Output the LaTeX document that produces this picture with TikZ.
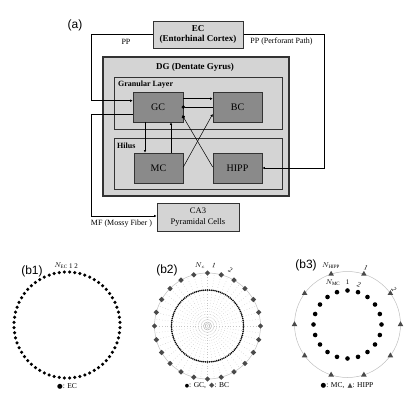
\documentclass[tikz,border=0pt]{standalone}
\usepackage{fontspec}
\setmainfont{Liberation Serif}
\newfontfamily\panelfont{Liberation Sans}
\newfontfamily\symfont{DejaVu Sans}
\usetikzlibrary{arrows.meta,calc,shapes.geometric}
\definecolor{lightbox}{HTML}{D4D4D4}
\definecolor{darkbox}{HTML}{8A8A8A}
\definecolor{markgray}{HTML}{4A4A4A}
\begin{document}
\begin{tikzpicture}[x=1pt,y=-1pt,
  region/.style={draw=black!80, line width=0.8pt, fill=lightbox, inner sep=0pt},
  cell/.style={draw=black!80, line width=0.6pt, fill=darkbox, inner sep=0pt, minimum width=49pt, minimum height=30pt, font=\fontsize{10}{11}\selectfont},
  outerbox/.style={draw=black!80, line width=1pt, fill=lightbox, inner sep=0pt, align=center},
  conn/.style={draw=black, line width=0.5pt},
  excite/.style={conn, -{Latex[length=2.6pt,width=2.6pt]}},
  inhib/.style={conn, -{Circle[length=3.4pt]}, shorten >=-1.7pt},
  lbl/.style={font=\fontsize{8}{9}\selectfont, inner sep=0pt},
  ttl/.style={font=\bfseries\fontsize{8}{9}\selectfont, inner sep=0pt, anchor=west},
  plabel/.style={font=\panelfont\fontsize{12}{13}\selectfont, inner sep=0pt},
  ring/.style={draw=gray!50, line width=0.5pt},
  legend/.style={font=\fontsize{7.5}{8}\selectfont, inner sep=0pt},
  small/.style={font=\fontsize{7}{8}\selectfont, inner sep=0pt}
]
\useasboundingbox (0,0) rectangle (415,400);

% ---------- panel (a) ----------
\node[plabel] (pa) at (75,25) {(a)};

\node[region, line width=1.1pt, minimum width=186pt, minimum height=139pt] (DG) at (196,126.5) {};
\node[font=\bfseries\fontsize{9}{10}\selectfont, inner sep=0pt] (DGt) at (195,67) {DG (Dentate Gyrus)};
\node[region, line width=0.7pt, minimum width=168pt, minimum height=52pt] (GL) at (198,103) {};
\node[ttl] (GLt) at (118,85) {Granular Layer};
\node[region, line width=0.7pt, minimum width=168pt, minimum height=51pt] (HL) at (198,163.5) {};
\node[ttl] (HLt) at (117,146) {Hilus};

\node[cell, minimum width=50pt] (GC) at (158,107) {GC};
\node[cell] (BC) at (237.5,107) {BC};
\node[cell] (MC) at (158.5,168) {MC};
\node[cell] (HIPP) at (237.5,168) {HIPP};

\node[outerbox, minimum width=90pt, minimum height=27pt, font=\bfseries\fontsize{9}{10.5}\selectfont] (EC) at (198,34.5) {EC\\(Entorhinal Cortex)};
\node[outerbox, line width=0.8pt, minimum width=82pt, minimum height=28pt, font=\fontsize{8.5}{10.5}\selectfont] (CA3) at (198,217) {CA3\\Pyramidal Cells};

% coordinates for the long paths
\coordinate (ppL1) at (91,34.5);
\coordinate (ppL2) at (91,100.7);
\coordinate (ppR1) at (324,34.5);
\coordinate (ppR2) at (324,168);
\coordinate (mf1) at (91,114);
\coordinate (mf2) at (91,216);

\draw[excite] (EC.west) -- (ppL1) -- (ppL2) -- ($(GC.west)+(0,-6.3)$);
\draw[excite] (EC.east) -- (ppR1) -- (ppR2) -- (HIPP.east);
\draw[excite] ($(GC.west)+(0,7)$) -- (mf1) -- (mf2) -- ($(CA3.west)+(0,-1)$);

\node[lbl] (ppl) at (126,42) {PP};
\node[lbl] (ppr) at (281.5,42) {PP (Perforant Path)};
\node[lbl] (mfl) at (121.5,223.5) {MF (Mossy Fiber )};

% local connections
\draw[excite] ($(GC.east)+(0,-8.3)$) -- ($(BC.west)+(0,-8.3)$);
\draw[inhib] (BC.west) -- (GC.east);
\draw[inhib] ($(HIPP.west)+(0,-1)$) -- ($(GC.east)+(0,10)$);
\draw[excite] ($(MC.east)+(0,-1)$) -- ($(BC.west)+(0,7)$);
\draw[excite] ($(GC.south)+(-13,0)$) -- ($(MC.north)+(-13.5,0)$);
\draw[excite] ($(MC.north)+(12.5,0)$) -- ($(GC.south)+(13,0)$);

% ---------- panel (b1) ----------
\node[plabel] (pb1) at (32,271) {(b1)};
\coordinate (c1) at (67,325);
\foreach \k in {0,...,63}{
  \fill ($(c1)+({90-2.8125-5.625*\k}:53pt)$) circle (1.75pt);
}
\node[small] (nec) at (61,266) {$N_{\mathrm{EC}}$};
\node[small] (n12a) at (73.5,266.5) {1 2};
\node[legend] (lg1) at (67,386) {{\symfont\fontsize{6.5}{7}\selectfont ●}: EC};

% ---------- panel (b2) ----------
\node[plabel] (pb2) at (167,270) {(b2)};
\coordinate (c2) at (207.5,326);
\foreach \k in {0,...,47}{
  \draw[gray!45, line width=0.5pt, dash pattern=on 0.6pt off 2.2pt] ($(c2)+({7.5*\k}:6pt)$) -- ($(c2)+({7.5*\k}:52pt)$);
}
\draw[ring] (c2) circle (53pt);
\draw[gray!60, line width=0.5pt] (c2) circle (4pt);
\draw[gray!60, line width=0.5pt] (c2) circle (2.3pt);
\fill[gray!70] (c2) circle (0.7pt);
\foreach \k in {0,...,119}{
  \fill ($(c2)+({3*\k}:36pt)$) circle (0.9pt);
}
\foreach \k in {0,...,23}{
  \node[diamond, fill=markgray, inner sep=0pt, minimum size=5.6pt] at ($(c2)+({90-15*\k}:53pt)$) {};
}
\node[small] (nc) at (200,265.5) {$N_{c}$};
\node[small, rotate=-8] (b21) at (214,265.5) {\itshape 1};
\node[small, rotate=-25] (b22) at (230.5,270) {\itshape 2};
\node[legend] (lg2) at (207,386) {{\symfont\fontsize{5}{6}\selectfont ●}: GC,\, {\symfont\fontsize{7}{7}\selectfont\color{markgray}◆}: BC};

% ---------- panel (b3) ----------
\node[plabel] (pb3) at (306,265) {(b3)};
\coordinate (c3) at (347.5,324.5);
\draw[ring] (c3) circle (53pt);
\foreach \k in {0,...,9}{
  \node[regular polygon, regular polygon sides=3, fill=markgray, inner sep=0pt, minimum size=6.5pt] at ($(c3)+({36*\k}:53pt)$) {};
}
\foreach \k in {0,...,19}{
  \fill ($(c3)+({90-18*\k}:34pt)$) circle (2.3pt);
}
\node[small] (nh) at (331,265.5) {$N_{\mathrm{HIPP}}$};
\node[small, rotate=-15] (b31) at (366,267.5) {\itshape 1};
\node[small, rotate=-50] (b32) at (394,289.5) {\itshape 2};
\node[small] (nm) at (333,283) {$N_{\mathrm{MC}}$};
\node[small] (b3m1) at (347.5,282) {1};
\node[small, rotate=-15] (b3m2) at (359,285) {\itshape 2};
\node[legend] (lg3) at (347,386) {{\symfont\fontsize{6.5}{7}\selectfont ●}: MC,\, {\symfont\fontsize{6.5}{7}\selectfont\color{markgray}▲}: HIPP};
\end{tikzpicture}
\end{document}
